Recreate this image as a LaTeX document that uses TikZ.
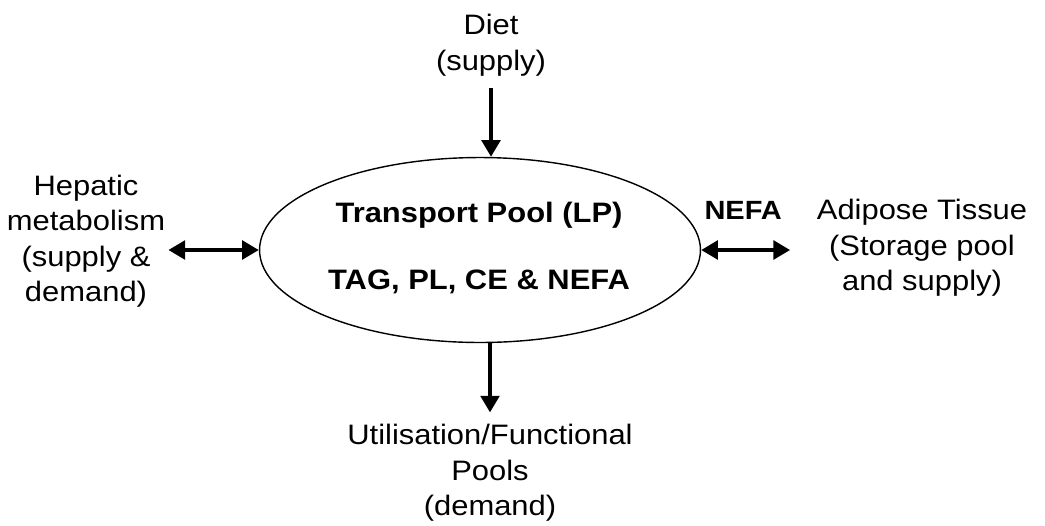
\documentclass[tikz,border=0pt]{standalone}
\usepackage{fontspec}
\setmainfont{Liberation Sans}[FakeStretch=1.1]
\usetikzlibrary{arrows.meta,positioning,calc,shapes.geometric}

\begin{document}
\begin{tikzpicture}[
  x=0.02cm,y=-0.02cm,
  >={Triangle[length=9.5pt,width=10.5pt]},
  txt/.style={align=center,inner sep=1pt,font=\fontsize{16}{20.2}\selectfont},
  bold/.style={inner sep=1pt,font=\fontsize{16}{20}\selectfont\bfseries},
  pool/.style={ellipse,draw,line width=0.8pt,minimum width=8.82cm,minimum height=3.7cm},
  flow/.style={->,line width=2.3pt},
  dflow/.style={<->,line width=2.3pt}
]
\useasboundingbox (0,0) rectangle (1045,525);
\node[pool] (pool) at (480,250) {};
\node[bold] (title) at (479,215) {Transport Pool (LP)};
\node[bold] (lipids) at (479,282) {TAG, PL, CE \& NEFA};

\node[txt] (diet) at (491,45) {Diet\\(supply)};
\node[txt] (hepatic) at (86,241) {Hepatic\\metabolism\\(supply \&\\demand)};
\node[txt] (adipose) at (922,248) {Adipose Tissue\\(Storage pool\\and supply)};
\node[txt] (util) at (490,473) {Utilisation/Functional\\Pools\\(demand)};

\draw[flow,shorten <=5.9pt] (diet) -- (diet |- pool.north);
\draw[flow,shorten >=5.6pt] (pool.south -| util) -- (util.north);
\draw[dflow,shorten <=0.7pt] (hepatic.east |- pool.west) -- (pool.west);
\draw[dflow,shorten >=14pt] (pool.east) -- node[bold,font=\fontsize{15}{18}\selectfont\bfseries,pos=0.37,above=15pt] (nefa) {NEFA} (adipose.west |- pool.east);
\end{tikzpicture}
\end{document}
